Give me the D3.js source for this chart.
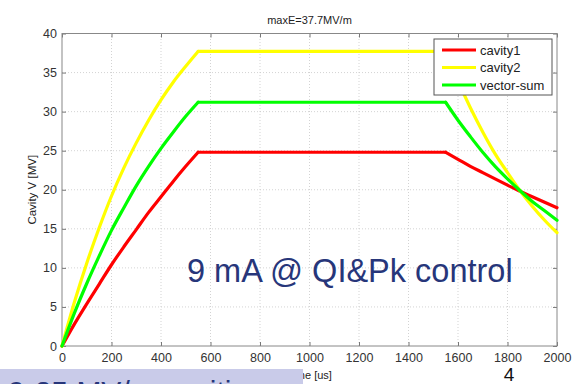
<!DOCTYPE html>
<html>
<head>
<meta charset="utf-8">
<script src="https://cdn.jsdelivr.net/npm/d3@7"></script>
<style>
  body { margin: 0; background: #fff; }
  svg { display: block; font-family: Arial, "Liberation Sans", sans-serif; }
</style>
</head>
<body>
<div id="chart"></div>
<script>
// time axis samples [us]
const times = [0, 50, 100, 150, 200, 250, 300, 350, 400, 450, 500, 550,
  1550, 1600, 1650, 1700, 1750, 1800, 1850, 1900, 1950, 2000];

// cavity voltages [MV]
const cavity1 = [0, 2.8, 5.4, 7.9, 10.4, 12.7, 14.9, 17.1, 19.1, 21.1, 23.0, 24.8,
  24.8, 23.9, 23.0, 22.2, 21.4, 20.6, 19.8, 19.1, 18.4, 17.7];
const cavity2 = [0, 5.6, 10.6, 15.1, 19.2, 22.8, 26.0, 28.9, 31.5, 33.8, 35.8, 37.7,
  37.7, 33.9, 30.5, 27.4, 24.6, 22.2, 19.9, 17.9, 16.1, 14.5];
const vectorSum = [0, 4.2, 8.0, 11.5, 14.8, 17.7, 20.5, 23.0, 25.3, 27.4, 29.4, 31.2,
  31.2, 28.9, 26.8, 24.8, 23.0, 21.4, 19.9, 18.5, 17.3, 16.1];

const seriesNames = ["cavity1", "cavity2", "vector-sum"];
const seriesColors = ["#ff0000", "#ffff00", "#00ff00"];
const xTicks = [0, 200, 400, 600, 800, 1000, 1200, 1400, 1600, 1800, 2000];
const yTicks = [0, 5, 10, 15, 20, 25, 30, 35, 40];

const W = 584, H = 384;
const margin = { top: 33.5, right: 27, bottom: 38, left: 62 };

const svg = d3.select("#chart").append("svg")
  .attr("width", W).attr("height", H);

const x = d3.scaleLinear().domain([0, 2000]).range([margin.left, W - margin.right]);
const y = d3.scaleLinear().domain([0, 40]).range([H - margin.bottom, margin.top]);

// grid
const grid = svg.append("g");
grid.selectAll(".vg").data(xTicks.slice(1, -1)).enter().append("line")
  .attr("x1", d => x(d)).attr("x2", d => x(d))
  .attr("y1", y(0)).attr("y2", y(40))
  .attr("stroke", "#c8c8c8").attr("stroke-width", 0.8).attr("stroke-dasharray", "1,2");
grid.selectAll(".hg").data(yTicks.slice(1, -1)).enter().append("line")
  .attr("x1", x(0)).attr("x2", x(2000))
  .attr("y1", d => y(d)).attr("y2", d => y(d))
  .attr("stroke", "#c8c8c8").attr("stroke-width", 0.8).attr("stroke-dasharray", "1,2");

// axes (ticks inward)
const axisStyle = g => {
  g.select(".domain").remove();
  g.selectAll("line").attr("stroke", "#777");
  g.selectAll("text").attr("fill", "#333").style("font-size", "12.5px");
};
svg.append("g").attr("transform", `translate(0,${y(0)})`)
  .call(d3.axisBottom(x).tickValues(xTicks).tickFormat(d3.format("d")).tickSize(-4).tickPadding(7))
  .call(axisStyle);
svg.append("g").attr("transform", `translate(0,${y(40)})`)
  .call(d3.axisTop(x).tickValues(xTicks).tickSize(-4).tickFormat(""))
  .call(axisStyle);
svg.append("g").attr("transform", `translate(${x(0)},0)`)
  .call(d3.axisLeft(y).tickValues(yTicks).tickSize(-4).tickPadding(5))
  .call(axisStyle);
svg.append("g").attr("transform", `translate(${x(2000)},0)`)
  .call(d3.axisRight(y).tickValues(yTicks).tickSize(-4).tickFormat(""))
  .call(axisStyle);

svg.append("rect")
  .attr("x", x(0)).attr("y", y(40))
  .attr("width", x(2000) - x(0)).attr("height", y(0) - y(40))
  .attr("fill", "none").attr("stroke", "#888").attr("stroke-width", 1);

// curves: smooth rise, flat top, smooth decay -- sharp knees between them
const seriesData = [cavity1, cavity2, vectorSum];
const smooth = d3.line().x(d => x(d[0])).y(d => y(d[1])).curve(d3.curveMonotoneX);
const straight = d3.line().x(d => x(d[0])).y(d => y(d[1]));
seriesData.forEach((vals, i) => {
  const pts = times.map((t, j) => [t, vals[j]]);
  const rise = pts.filter(d => d[0] <= 550);
  const flat = pts.filter(d => d[0] >= 550 && d[0] <= 1550);
  const decay = pts.filter(d => d[0] >= 1550);
  const g = svg.append("g")
    .attr("fill", "none")
    .attr("stroke", seriesColors[i])
    .attr("stroke-width", 3.2)
    .attr("stroke-linecap", "round")
    .attr("stroke-linejoin", "round");
  g.append("path").attr("d", smooth(rise));
  g.append("path").attr("d", straight(flat));
  g.append("path").attr("d", smooth(decay));
});

// title and labels
svg.append("text")
  .attr("x", (x(0) + x(2000)) / 2).attr("y", 24)
  .attr("text-anchor", "middle").attr("fill", "#222")
  .style("font-size", "11px").text("maxE=37.7MV/m");

svg.append("text")
  .attr("transform", `translate(36,${y(20)}) rotate(-90)`)
  .attr("text-anchor", "middle").attr("fill", "#222")
  .style("font-size", "11.5px").text("Cavity V  [MV]");

svg.append("text")
  .attr("x", (x(0) + x(2000)) / 2).attr("y", 379)
  .attr("text-anchor", "middle").attr("fill", "#222")
  .style("font-size", "11px").text("Time [us]");

// legend
const lg = svg.append("g").attr("transform", "translate(434,39)");
lg.append("rect").attr("width", 118).attr("height", 56)
  .attr("fill", "#fff").attr("stroke", "#555").attr("stroke-width", 1);
seriesNames.forEach((name, i) => {
  const yy = 11 + i * 17.5;
  lg.append("line").attr("x1", 8).attr("x2", 42).attr("y1", yy).attr("y2", yy)
    .attr("stroke", seriesColors[i]).attr("stroke-width", 3.2);
  lg.append("text").attr("x", 46).attr("y", yy + 4.5)
    .attr("fill", "#222").style("font-size", "13px").text(name);
});

// annotation
svg.append("text")
  .attr("x", 187).attr("y", 282)
  .attr("fill", "#27367a").style("font-size", "32.5px")
  .text("9 mA @ QI&Pk control");

// slide overlay box at bottom left (its text runs off the bottom of the crop)
svg.append("clipPath").attr("id", "boxclip")
  .append("rect").attr("x", 0).attr("y", 369).attr("width", 303).attr("height", 15);
svg.append("rect").attr("x", 0).attr("y", 369).attr("width", 303).attr("height", 15)
  .attr("fill", "#c9cbe9");
svg.append("text")
  .attr("clip-path", "url(#boxclip)")
  .attr("x", 8).attr("y", 402)
  .attr("fill", "#27367a").style("font-size", "30px")
  .text("9-25 MV/m cavities");

// slide number
svg.append("text")
  .attr("x", 509).attr("y", 381)
  .attr("text-anchor", "middle").attr("fill", "#111")
  .style("font-size", "19px").text("4");
</script>
</body>
</html>
